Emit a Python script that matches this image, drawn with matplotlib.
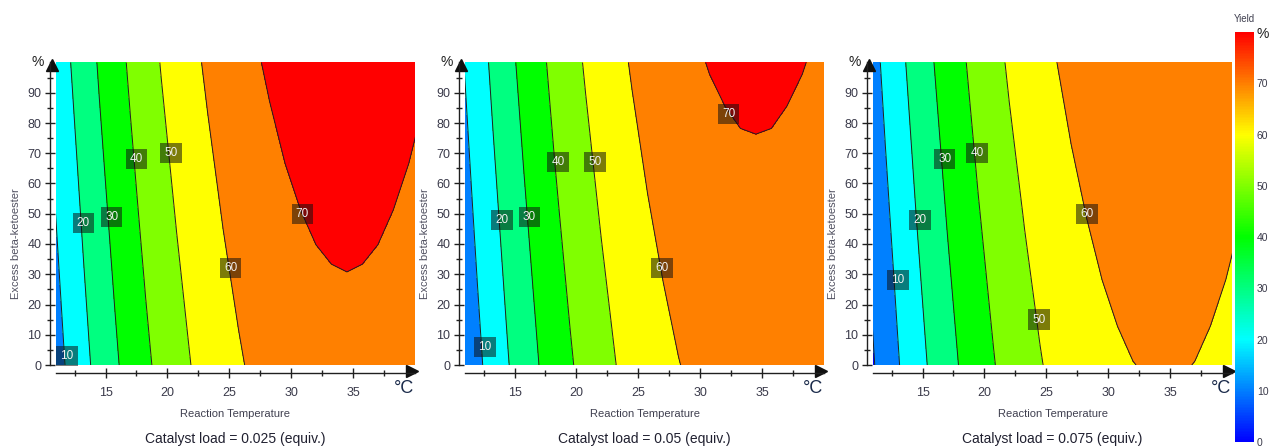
import matplotlib
matplotlib.use('Agg')
import matplotlib.pyplot as plt
import matplotlib.transforms as mtransforms
from matplotlib.colors import LinearSegmentedColormap, Normalize
from matplotlib.cm import ScalarMappable

plt.rcParams['font.family'] = ['Liberation Sans', 'DejaVu Sans']

# Yield (%): columns = reaction temperature (C), rows = excess beta-ketoester (%)
temps = [10.75, 12.0, 13.25, 14.5, 15.75, 17.0, 18.25, 19.5, 20.75, 22.0, 23.25, 24.5, 25.75,
         27.0, 28.25, 29.5, 30.75, 32.0, 33.25, 34.5, 35.75, 37.0, 38.25, 39.5, 40.75]
excess = [0, 50, 100]

yield_025 = [
    [5.0, 11.4, 17.5, 23.2, 28.6, 33.6, 38.3, 42.6, 46.6, 50.3, 53.6, 56.5, 59.1,
     61.4, 63.3, 64.8, 66.0, 66.9, 67.4, 67.6, 67.4, 66.9, 66.0, 64.8, 63.3],
    [8.9, 15.3, 21.3, 27.1, 32.4, 37.5, 42.2, 46.5, 50.5, 54.1, 57.4, 60.4, 63.0,
     65.2, 67.1, 68.7, 69.9, 70.8, 71.3, 71.5, 71.3, 70.8, 69.9, 68.7, 67.1],
    [12.7, 19.1, 25.2, 30.9, 36.3, 41.3, 46.0, 50.4, 54.3, 58.0, 61.3, 64.2, 66.8,
     69.1, 71.0, 72.6, 73.8, 74.6, 75.2, 75.3, 75.2, 74.6, 73.8, 72.6, 71.0],
]
yield_050 = [
    [1.5, 7.9, 14.0, 19.7, 25.1, 30.1, 34.8, 39.1, 43.1, 46.8, 50.1, 53.0, 55.6,
     57.9, 59.8, 61.3, 62.5, 63.4, 63.9, 64.1, 63.9, 63.4, 62.5, 61.3, 59.8],
    [5.4, 11.8, 17.8, 23.6, 28.9, 34.0, 38.7, 43.0, 47.0, 50.6, 53.9, 56.9, 59.5,
     61.7, 63.6, 65.2, 66.4, 67.3, 67.8, 68.0, 67.8, 67.3, 66.4, 65.2, 63.6],
    [9.2, 15.6, 21.7, 27.4, 32.8, 37.8, 42.5, 46.9, 50.8, 54.5, 57.8, 60.7, 63.3,
     65.6, 67.5, 69.1, 70.3, 71.1, 71.7, 71.8, 71.7, 71.1, 70.3, 69.1, 67.5],
]
yield_075 = [
    [-2.0, 4.4, 10.5, 16.2, 21.6, 26.6, 31.3, 35.6, 39.6, 43.3, 46.6, 49.5, 52.1,
     54.4, 56.3, 57.8, 59.0, 59.9, 60.4, 60.6, 60.4, 59.9, 59.0, 57.8, 56.3],
    [1.9, 8.3, 14.3, 20.1, 25.4, 30.5, 35.2, 39.5, 43.5, 47.1, 50.4, 53.4, 56.0,
     58.2, 60.1, 61.7, 62.9, 63.8, 64.3, 64.5, 64.3, 63.8, 62.9, 61.7, 60.1],
    [5.7, 12.1, 18.2, 23.9, 29.3, 34.3, 39.0, 43.4, 47.3, 51.0, 54.3, 57.2, 59.8,
     62.1, 64.0, 65.6, 66.8, 67.6, 68.2, 68.3, 68.2, 67.6, 66.8, 65.6, 64.0],
]

# contour label positions (temperature, excess) and values
lab_025 = {'t': [11.9, 13.2, 15.5, 17.5, 20.3, 25.1, 30.9], 'e': [3, 47, 49, 68, 70, 32, 50],
           'v': [10, 20, 30, 40, 50, 60, 70]}
lab_050 = {'t': [12.6, 14.0, 16.2, 18.5, 21.5, 26.9, 32.3], 'e': [6, 48, 49, 67, 67, 32, 83],
           'v': [10, 20, 30, 40, 50, 60, 70]}
lab_075 = {'t': [13.0, 14.8, 16.8, 19.4, 24.4, 28.3], 'e': [28, 48, 68, 70, 15, 50],
           'v': [10, 20, 30, 40, 50, 60]}

catalyst = ['0.025', '0.05', '0.075']
panels = [yield_025, yield_050, yield_075]
labels = [lab_025, lab_050, lab_075]

fill_levels = [-100, 0, 10, 20, 30, 40, 50, 60, 70, 200]
line_levels = [0, 10, 20, 30, 40, 50, 60, 70]
band_colors = ['#0000ff', '#0080ff', '#00ffff', '#00ff80', '#00ff00', '#80ff00',
               '#ffff00', '#ff8000', '#ff0000']

W, H = 1271, 448
fig = plt.figure(figsize=(W / 100, H / 100), dpi=100)

tick_col = '#3a3a4a'
lefts = [56, 465, 873]

for left, Z, lab, cat in zip(lefts, panels, labels, catalyst):
    ax = fig.add_axes([left / W, 83 / H, 359 / W, 302.5 / H])
    ax.contourf(temps, excess, Z, levels=fill_levels, colors=band_colors)
    ax.contour(temps, excess, Z, levels=line_levels, colors='#202020', linewidths=0.7)
    ax.set_xlim(11, 40)
    ax.set_ylim(0, 100)

    for s in ['top', 'right']:
        ax.spines[s].set_visible(False)
    ax.spines['left'].set_position(('outward', 4))
    ax.spines['bottom'].set_position(('outward', 6))
    ax.spines['left'].set_bounds(0, 100)
    ax.spines['bottom'].set_bounds(11, 40)
    for s in ['left', 'bottom']:
        ax.spines[s].set_color('#202020')
        ax.spines[s].set_linewidth(1.0)

    ax.set_xticks([15, 20, 25, 30, 35])
    ax.set_xticks([12.5, 17.5, 22.5, 27.5, 32.5, 37.5], minor=True)
    ax.set_yticks(range(0, 100, 10))
    ax.set_yticks(range(5, 100, 10), minor=True)
    ax.tick_params(which='major', direction='inout', length=7, width=1, color='#202020',
                   labelsize=9, labelcolor=tick_col)
    ax.tick_params(axis='x', which='major', pad=6)
    ax.tick_params(axis='y', which='major', pad=3)
    ax.tick_params(which='minor', direction='inout', length=5, width=1, color='#202020')

    # axis arrows
    tx = mtransforms.offset_copy(ax.transAxes, fig=fig, x=-3, y=-6, units='dots')
    ax.plot([1], [0], marker='>', ms=8, color='#101010', transform=tx, clip_on=False)
    ty = mtransforms.offset_copy(ax.transAxes, fig=fig, x=-4, y=-3, units='dots')
    ax.plot([0], [1], marker='^', ms=8, color='#101010', transform=ty, clip_on=False)

    ax.annotate('°C', xy=(1, 0), xycoords='axes fraction', xytext=(-8, -17),
                textcoords='offset points', ha='center', va='center', fontsize=13,
                color='#1a2a4a')
    ax.annotate('%', xy=(0, 1), xycoords='axes fraction', xytext=(-13, 0),
                textcoords='offset points', ha='center', va='center', fontsize=10,
                color='#202020')

    ax.text(-0.111, 0.4, 'Excess beta-ketoester', rotation=90, transform=ax.transAxes,
            ha='center', va='center', fontsize=8, color='#505060')
    ax.text(0.5, -0.162, 'Reaction Temperature', transform=ax.transAxes,
            ha='center', va='center', fontsize=8, color='#404050')
    ax.text(0.5, -0.243, 'Catalyst load = ' + cat + ' (equiv.)', transform=ax.transAxes,
            ha='center', va='center', fontsize=10, color='#202030')

    for t, e, v in zip(lab['t'], lab['e'], lab['v']):
        ax.text(t, e, str(v), ha='center', va='center', fontsize=8.5, color='#f0f0f0',
                bbox=dict(boxstyle='square,pad=0.35', fc='#101010', ec='none', alpha=0.55))

# colour bar
cmap = LinearSegmentedColormap.from_list(
    'yield', ['#0000ff', '#0080ff', '#00ffff', '#00ff80', '#00ff00', '#80ff00',
              '#ffff00', '#ff8000', '#ff0000'])
cax = fig.add_axes([1235 / W, 6 / H, 19 / W, 410 / H])
cb = fig.colorbar(ScalarMappable(norm=Normalize(0, 80), cmap=cmap), cax=cax)
cb.outline.set_visible(False)
cb.set_ticks(range(0, 90, 10))
cb.set_ticklabels([str(v) for v in range(0, 80, 10)] + ['%'])
cax.tick_params(length=0, pad=2, labelsize=7.5, labelcolor=tick_col)
cax.get_yticklabels()[-1].set_fontsize(10)
cax.get_yticklabels()[-1].set_color('#202020')
cax.text(0.5, 1.02, 'Yield', transform=cax.transAxes, ha='center', va='bottom',
         fontsize=7, color='#404050')

fig.savefig('out.png', dpi=100)
